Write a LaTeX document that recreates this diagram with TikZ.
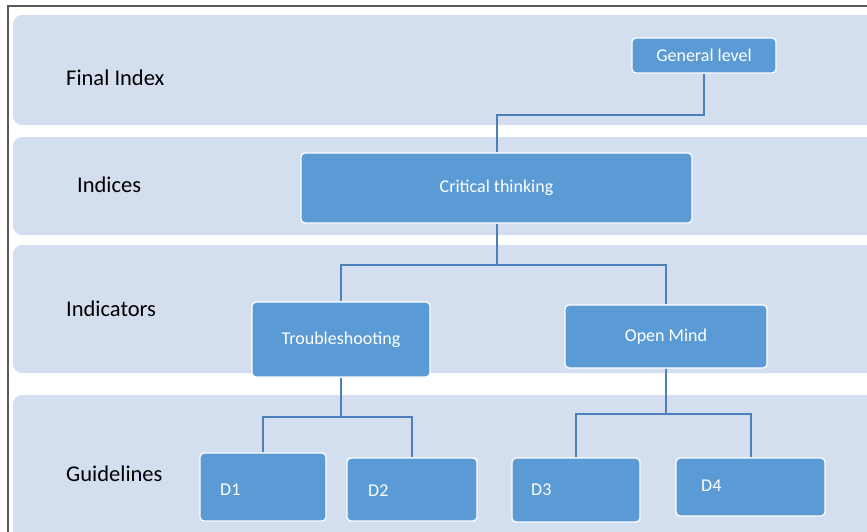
\documentclass[tikz,border=0pt]{standalone}
\usepackage{fontspec}
\setmainfont{Carlito}
\begin{document}
\begin{tikzpicture}[x=1pt,y=-1pt,
  band/.style={fill=bandc, draw=none, rounded corners=9pt},
  box/.style={fill=boxc, draw=white, line width=1.3pt, rounded corners=4pt, text=white, font=\fontsize{18}{20}\selectfont, inner sep=0pt},
  lvl/.style={font=\fontsize{22.5}{25}\selectfont, text=black, anchor=west, inner sep=0pt},
  dtxt/.style={font=\fontsize{18}{20}\selectfont, text=white, anchor=west, inner sep=0pt},
  conn/.style={draw=connc, line width=2pt}]
\definecolor{bandc}{HTML}{D3DEEF}
\definecolor{boxc}{HTML}{5B9BD5}
\definecolor{connc}{HTML}{4D7FBA}
\useasboundingbox (0,0) rectangle (867,531);
\fill[white] (0,0) rectangle (867,531);
\begin{scope}
\clip (0,0) rectangle (867,531);
\fill[band] (13,15) rectangle (885,125);
\fill[band] (13,137) rectangle (885,235);
\fill[band] (13,245) rectangle (885,373);
\fill[band] (13,395) rectangle (885,560);
\draw[draw=black!65, line width=1.5pt] (8,540) -- (8,6) -- (880,6);
\end{scope}
% level labels
\node[lvl] (l1) at (66,78) {Final Index};
\node[lvl] (l2) at (77,185) {Indices};
\node[lvl] (l3) at (66,309) {Indicators};
\node[lvl] (l4) at (66,474) {Guidelines};
% connectors (drawn first)
\coordinate (glc) at (704,55.5);
\coordinate (ctc) at (496.5,188);
\coordinate (tsc) at (341,339.5);
\coordinate (omc) at (666,336.5);
% boxes
\node[box, minimum width=144pt, minimum height=35pt] (gl) at (704,55.5) {General level};
\node[box, minimum width=391pt, minimum height=70pt] (ct) at (496.5,188) {Critical thinking};
\node[box, minimum width=178pt, minimum height=75pt] (ts) at (341,339.5) {Troubleshooting};
\node[box, minimum width=202pt, minimum height=63pt] (om) at (666,336.5) {Open Mind};
\node[box, minimum width=126pt, minimum height=68pt] (d1) at (263,487) {};
\node[box, minimum width=130pt, minimum height=63pt] (d2) at (412,489.5) {};
\node[box, minimum width=128pt, minimum height=64pt] (d3) at (576,490) {};
\node[box, minimum width=149pt, minimum height=58pt] (d4) at (750.5,487) {};
\node[dtxt] (t1) at (220,490) {D1};
\node[dtxt] (t2) at (368,491) {D2};
\node[dtxt] (t3) at (531,490) {D3};
\node[dtxt] (t4) at (701,486) {D4};
% connectors
\draw[conn] (gl.south) -- ++(0,41) -| (ct.north);
\draw[conn] (ct.south) -- ++(0,41) -| (ts.north);
\draw[conn] (ct.south) -- ++(0,41) -| (om.north);
\draw[conn] (ts.south) -- ++(0,39) -| (d1.north);
\draw[conn] (ts.south) -- ++(0,39) -| (d2.north);
\draw[conn] (om.south) -- ++(0,45) -| (d3.north);
\draw[conn] (om.south) -- ++(0,45) -| (d4.north);
\end{tikzpicture}
\end{document}
